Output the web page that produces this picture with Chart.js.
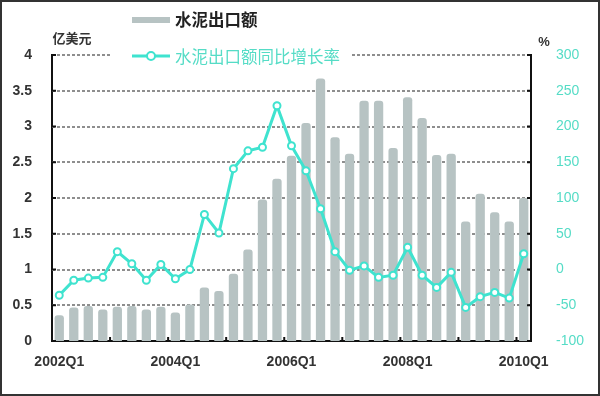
<!DOCTYPE html>
<html>
<head>
<meta charset="utf-8">
<script src="https://cdn.jsdelivr.net/npm/chart.js@4.4.1/dist/chart.umd.min.js"></script>
<style>
  html, body { margin: 0; padding: 0; background: #fff; }
  #wrap { width: 600px; height: 396px; position: relative; }
</style>
</head>
<body>
<div id="wrap"><canvas id="cementChart" width="600" height="396"></canvas></div>
<script>
const quarters = [
    '2002Q1', '2002Q2', '2002Q3', '2002Q4',
    '2003Q1', '2003Q2', '2003Q3', '2003Q4',
    '2004Q1', '2004Q2', '2004Q3', '2004Q4',
    '2005Q1', '2005Q2', '2005Q3', '2005Q4',
    '2006Q1', '2006Q2', '2006Q3', '2006Q4',
    '2007Q1', '2007Q2', '2007Q3', '2007Q4',
    '2008Q1', '2008Q2', '2008Q3', '2008Q4',
    '2009Q1', '2009Q2', '2009Q3', '2009Q4',
    '2010Q1'
];
// 水泥出口额, 亿美元
const exportValue = [
    0.36, 0.47, 0.49, 0.44, 0.48, 0.49, 0.44, 0.48,
    0.40, 0.51, 0.75, 0.70, 0.94, 1.28, 1.98, 2.27,
    2.59, 3.05, 3.67, 2.85, 2.62, 3.36, 3.36, 2.70,
    3.41, 3.12, 2.60, 2.62, 1.67, 2.06, 1.80, 1.67,
    2.00
];
// 水泥出口额同比增长率, %
const growthRate = [
    -36, -15, -12, -11, 25, 8, -15, 7,
    -13, 0, 77, 51, 141, 166, 171, 229,
    173, 138, 85, 25, -1, 5, -11, -8,
    31, -8, -25, -4, -53, -38, -32, -40,
    22
];
const leftTicks = [0, 0.5, 1, 1.5, 2, 2.5, 3, 3.5, 4];
const rightTicks = [-100, -50, 0, 50, 100, 150, 200, 250, 300];

const barColor = '#b7c3c3';
const lineColor = '#3fe3cf';
const tealText = '#55dcc6';
const sans = '"Liberation Sans", Arial, sans-serif';
const cjk = '"Noto Sans CJK SC", sans-serif';

const overlay = {
    id: 'overlay',
    beforeDatasetsDraw(chart) {
        // dashed horizontal grid lines
        const ctx = chart.ctx;
        const area = chart.chartArea;
        const y = chart.scales.y;
        ctx.save();
        ctx.strokeStyle = '#8e8e8e';
        ctx.lineWidth = 2;
        ctx.setLineDash([3, 2]);
        ctx.beginPath();
        leftTicks.forEach(v => {
            if (v === 0) return;
            const py = Math.round(y.getPixelForValue(v));
            ctx.moveTo(area.left, py); ctx.lineTo(area.right, py);
        });
        ctx.stroke();
        ctx.restore();
    },
    afterDraw(chart) {
        const ctx = chart.ctx;
        const area = chart.chartArea;
        const x = chart.scales.x;
        const y = chart.scales.y;
        const y1 = chart.scales.y1;
        ctx.save();

        // small inward tick marks
        ctx.strokeStyle = '#111';
        ctx.lineWidth = 2;
        ctx.beginPath();
        leftTicks.forEach(v => {
            const py = y.getPixelForValue(v);
            ctx.moveTo(area.left, py); ctx.lineTo(area.left + 4, py);
        });
        rightTicks.forEach(v => {
            const py = y1.getPixelForValue(v);
            ctx.moveTo(area.right, py); ctx.lineTo(area.right - 4, py);
        });
        for (let i = 4; i < quarters.length; i += 4) {
            const px = (x.getPixelForValue(i - 1) + x.getPixelForValue(i)) / 2;
            ctx.moveTo(px, area.bottom); ctx.lineTo(px, area.bottom - 4);
        }
        ctx.stroke();

        // legend box over the top grid line
        ctx.fillStyle = '#fff';
        ctx.fillRect(110, 8, 240, 62);

        ctx.fillStyle = barColor;
        ctx.fillRect(132, 17, 38, 6);
        ctx.fillStyle = '#222';
        ctx.font = 'bold 16.5px ' + cjk;
        ctx.textBaseline = 'middle';
        ctx.textAlign = 'left';
        ctx.fillText('水泥出口额', 175, 20);

        ctx.strokeStyle = lineColor;
        ctx.lineWidth = 3;
        ctx.beginPath();
        ctx.moveTo(132, 56); ctx.lineTo(170, 56);
        ctx.stroke();
        ctx.fillStyle = '#fff';
        ctx.lineWidth = 2;
        ctx.beginPath();
        ctx.arc(151, 56, 4, 0, Math.PI * 2);
        ctx.fill(); ctx.stroke();
        ctx.fillStyle = tealText;
        ctx.font = '16.5px ' + cjk;
        ctx.fillText('水泥出口额同比增长率', 175, 57);

        // units
        ctx.fillStyle = '#333';
        ctx.font = 'bold 13px ' + cjk;
        ctx.textAlign = 'center';
        ctx.fillText('亿美元', 72, 38);
        ctx.font = 'bold 13px ' + sans;
        ctx.fillText('%', 544, 42);

        // outer frame
        ctx.strokeStyle = '#333';
        ctx.lineWidth = 2;
        ctx.strokeRect(1, 1, chart.width - 2, chart.height - 2);
        ctx.restore();
    }
};

new Chart(document.getElementById('cementChart').getContext('2d'), {
    type: 'bar',
    data: {
        labels: quarters,
        datasets: [
            {
                type: 'line',
                label: '水泥出口额同比增长率',
                data: growthRate,
                yAxisID: 'y1',
                borderColor: lineColor,
                borderWidth: 3,
                pointRadius: 3.5,
                pointBorderWidth: 2,
                pointBackgroundColor: '#fff',
                pointBorderColor: lineColor,
                tension: 0,
                order: 0
            },
            {
                label: '水泥出口额',
                data: exportValue,
                yAxisID: 'y',
                backgroundColor: barColor,
                borderRadius: 3,
                barPercentage: 0.64,
                categoryPercentage: 1,
                order: 1
            }
        ]
    },
    options: {
        responsive: false,
        animation: false,
        layout: { padding: { top: 55 } },
        plugins: {
            legend: { display: false },
            tooltip: { enabled: false }
        },
        scales: {
            x: {
                offset: true,
                grid: { display: false },
                border: { display: true, color: '#111', width: 2 },
                ticks: {
                    autoSkip: false,
                    maxRotation: 0,
                    padding: 5,
                    color: '#333',
                    font: { family: sans, size: 14, weight: 'bold' },
                    callback: function(value, index) {
                        return index % 8 === 0 ? quarters[index] : '';
                    }
                },
                afterFit: s => { s.height = 55; }
            },
            y: {
                position: 'left',
                min: leftTicks[0],
                max: leftTicks[leftTicks.length - 1],
                grid: { display: false },
                border: { display: true, color: '#111', width: 2 },
                ticks: {
                    stepSize: 0.5,
                    padding: 12,
                    color: '#333',
                    font: { family: sans, size: 14, weight: 'bold' },
                    callback: v => String(v)
                },
                afterFit: s => { s.width = 52; }
            },
            y1: {
                position: 'right',
                min: rightTicks[0],
                max: rightTicks[rightTicks.length - 1],
                grid: { display: false },
                border: { display: true, color: '#111', width: 2 },
                ticks: {
                    stepSize: 50,
                    padding: 17,
                    color: tealText,
                    font: { family: sans, size: 14 }
                },
                afterFit: s => { s.width = 69; }
            }
        }
    },
    plugins: [overlay]
});
</script>
</body>
</html>
